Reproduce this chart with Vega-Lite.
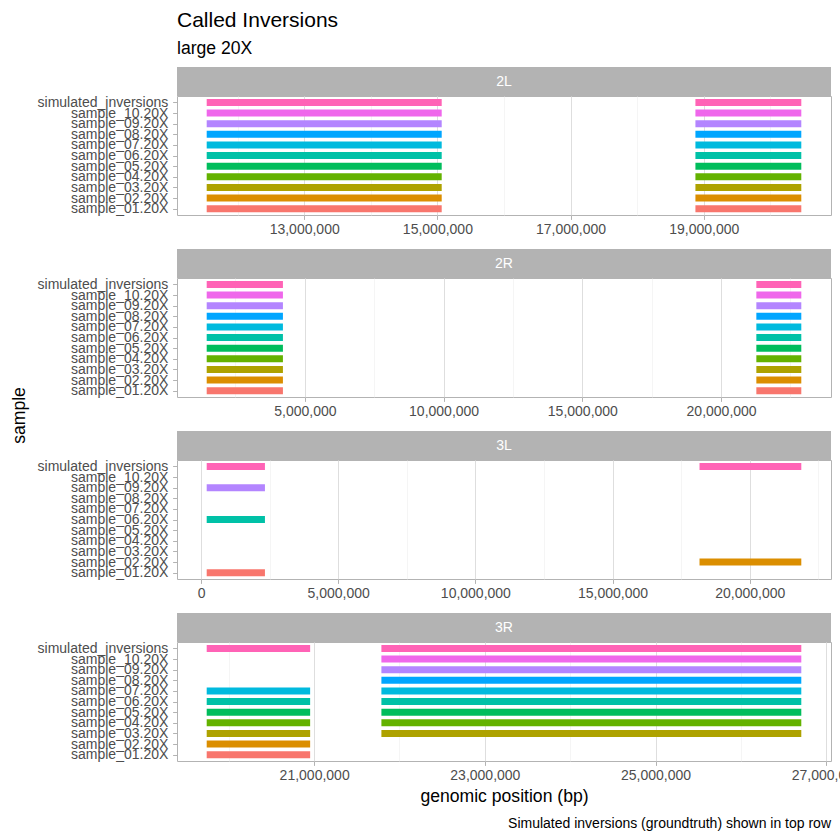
{
  "$schema": "https://vega.github.io/schema/vega-lite/v6.json",
  "padding": {"left": 9, "top": 10, "right": 5, "bottom": 5},
  "background": "white",
  "title": {"text": "Called Inversions", "subtitle": "large 20X", "anchor": "start", "frame": "group", "fontSize": 21, "subtitleFontSize": 17.6, "subtitlePadding": 9, "offset": 9},
  "datasets": {
    "inv": [
      {"chrom":"2L","sample":"simulated_inversions","start":11536000,"end":15065000},
      {"chrom":"2L","sample":"simulated_inversions","start":18875000,"end":20465000},
      {"chrom":"2L","sample":"sample_10.20X","start":11536000,"end":15065000},
      {"chrom":"2L","sample":"sample_10.20X","start":18875000,"end":20465000},
      {"chrom":"2L","sample":"sample_09.20X","start":11536000,"end":15065000},
      {"chrom":"2L","sample":"sample_09.20X","start":18875000,"end":20465000},
      {"chrom":"2L","sample":"sample_08.20X","start":11536000,"end":15065000},
      {"chrom":"2L","sample":"sample_08.20X","start":18875000,"end":20465000},
      {"chrom":"2L","sample":"sample_07.20X","start":11536000,"end":15065000},
      {"chrom":"2L","sample":"sample_07.20X","start":18875000,"end":20465000},
      {"chrom":"2L","sample":"sample_06.20X","start":11536000,"end":15065000},
      {"chrom":"2L","sample":"sample_06.20X","start":18875000,"end":20465000},
      {"chrom":"2L","sample":"sample_05.20X","start":11536000,"end":15065000},
      {"chrom":"2L","sample":"sample_05.20X","start":18875000,"end":20465000},
      {"chrom":"2L","sample":"sample_04.20X","start":11536000,"end":15065000},
      {"chrom":"2L","sample":"sample_04.20X","start":18875000,"end":20465000},
      {"chrom":"2L","sample":"sample_03.20X","start":11536000,"end":15065000},
      {"chrom":"2L","sample":"sample_03.20X","start":18875000,"end":20465000},
      {"chrom":"2L","sample":"sample_02.20X","start":11536000,"end":15065000},
      {"chrom":"2L","sample":"sample_02.20X","start":18875000,"end":20465000},
      {"chrom":"2L","sample":"sample_01.20X","start":11536000,"end":15065000},
      {"chrom":"2L","sample":"sample_01.20X","start":18875000,"end":20465000},
      {"chrom":"2R","sample":"simulated_inversions","start":1463000,"end":4210000},
      {"chrom":"2R","sample":"simulated_inversions","start":21270000,"end":22890000},
      {"chrom":"2R","sample":"sample_10.20X","start":1463000,"end":4210000},
      {"chrom":"2R","sample":"sample_10.20X","start":21270000,"end":22890000},
      {"chrom":"2R","sample":"sample_09.20X","start":1463000,"end":4210000},
      {"chrom":"2R","sample":"sample_09.20X","start":21270000,"end":22890000},
      {"chrom":"2R","sample":"sample_08.20X","start":1463000,"end":4210000},
      {"chrom":"2R","sample":"sample_08.20X","start":21270000,"end":22890000},
      {"chrom":"2R","sample":"sample_07.20X","start":1463000,"end":4210000},
      {"chrom":"2R","sample":"sample_07.20X","start":21270000,"end":22890000},
      {"chrom":"2R","sample":"sample_06.20X","start":1463000,"end":4210000},
      {"chrom":"2R","sample":"sample_06.20X","start":21270000,"end":22890000},
      {"chrom":"2R","sample":"sample_05.20X","start":1463000,"end":4210000},
      {"chrom":"2R","sample":"sample_05.20X","start":21270000,"end":22890000},
      {"chrom":"2R","sample":"sample_04.20X","start":1463000,"end":4210000},
      {"chrom":"2R","sample":"sample_04.20X","start":21270000,"end":22890000},
      {"chrom":"2R","sample":"sample_03.20X","start":1463000,"end":4210000},
      {"chrom":"2R","sample":"sample_03.20X","start":21270000,"end":22890000},
      {"chrom":"2R","sample":"sample_02.20X","start":1463000,"end":4210000},
      {"chrom":"2R","sample":"sample_02.20X","start":21270000,"end":22890000},
      {"chrom":"2R","sample":"sample_01.20X","start":1463000,"end":4210000},
      {"chrom":"2R","sample":"sample_01.20X","start":21270000,"end":22890000},
      {"chrom":"3L","sample":"simulated_inversions","start":207000,"end":2330000},
      {"chrom":"3L","sample":"simulated_inversions","start":18170000,"end":21880000},
      {"chrom":"3L","sample":"sample_09.20X","start":207000,"end":2330000},
      {"chrom":"3L","sample":"sample_06.20X","start":207000,"end":2330000},
      {"chrom":"3L","sample":"sample_02.20X","start":18170000,"end":21880000},
      {"chrom":"3L","sample":"sample_01.20X","start":207000,"end":2330000},
      {"chrom":"3R","sample":"simulated_inversions","start":19741000,"end":20953000},
      {"chrom":"3R","sample":"simulated_inversions","start":21788000,"end":26708000},
      {"chrom":"3R","sample":"sample_10.20X","start":21788000,"end":26708000},
      {"chrom":"3R","sample":"sample_09.20X","start":21788000,"end":26708000},
      {"chrom":"3R","sample":"sample_08.20X","start":21788000,"end":26708000},
      {"chrom":"3R","sample":"sample_07.20X","start":19741000,"end":20953000},
      {"chrom":"3R","sample":"sample_07.20X","start":21788000,"end":26708000},
      {"chrom":"3R","sample":"sample_06.20X","start":19741000,"end":20953000},
      {"chrom":"3R","sample":"sample_06.20X","start":21788000,"end":26708000},
      {"chrom":"3R","sample":"sample_05.20X","start":19741000,"end":20953000},
      {"chrom":"3R","sample":"sample_05.20X","start":21788000,"end":26708000},
      {"chrom":"3R","sample":"sample_04.20X","start":19741000,"end":20953000},
      {"chrom":"3R","sample":"sample_04.20X","start":21788000,"end":26708000},
      {"chrom":"3R","sample":"sample_03.20X","start":19741000,"end":20953000},
      {"chrom":"3R","sample":"sample_03.20X","start":21788000,"end":26708000},
      {"chrom":"3R","sample":"sample_02.20X","start":19741000,"end":20953000},
      {"chrom":"3R","sample":"sample_01.20X","start":19741000,"end":20953000}
    ]
  },
  "bounds": "flush",
  "spacing": 0,
  "vconcat": [
    {
      "data": {"values": [{"label": "2L"}]},
      "width": 654, "height": 29,
      "view": {"fill": "#B3B3B3", "stroke": null},
      "mark": {"type": "text", "color": "white", "fontSize": 14},
      "encoding": {"text": {"field": "label"}}
    },
    {
      "data": {"name": "inv"},
      "transform": [{"filter": "datum.chrom == '2L'"}],
      "width": 654, "height": 119,
      "mark": {"type": "rule", "strokeWidth": 7},
      "encoding": {
        "x": {"field": "start", "type": "quantitative", "scale": {"zero": false, "nice": false, "padding": 29.7},
          "axis": {"title": null, "format": ",d", "grid": true,
            "values": [12000000,13000000,14000000,15000000,16000000,17000000,18000000,19000000,20000000],
            "labelExpr": "datum.value % 2000000 == 1000000 ? datum.label : ''",
            "tickOpacity": {"condition": {"test": "datum.value % 2000000 == 1000000", "value": 1}, "value": 0},
            "gridColor": {"condition": {"test": "datum.value % 2000000 == 1000000", "value": "#DEDEDE"}, "value": "#EFEFEF"},
            "gridWidth": {"condition": {"test": "datum.value % 2000000 == 1000000", "value": 1}, "value": 0.6}}},
        "x2": {"field": "end"},
        "y": {"field": "sample", "type": "nominal",
          "scale": {"type": "point", "padding": 0.6, "domain": ["simulated_inversions","sample_10.20X","sample_09.20X","sample_08.20X","sample_07.20X","sample_06.20X","sample_05.20X","sample_04.20X","sample_03.20X","sample_02.20X","sample_01.20X"]},
          "axis": {"title": null}},
        "color": {"field": "sample", "type": "nominal", "legend": null,
          "scale": {"domain": ["sample_01.20X","sample_02.20X","sample_03.20X","sample_04.20X","sample_05.20X","sample_06.20X","sample_07.20X","sample_08.20X","sample_09.20X","sample_10.20X","simulated_inversions"],
            "range": ["#F8766D","#DB8E00","#AEA200","#64B200","#00BD5C","#00C1A7","#00BADE","#00A6FF","#B385FF","#EF67EB","#FF63B6"]}}
      }
    },
    {
      "data": {"values": [{"label": ""}]},
      "width": 654, "height": 33.6,
      "view": {"stroke": null},
      "mark": {"type": "text"},
      "encoding": {"text": {"field": "label"}}
    },
    {
      "data": {"values": [{"label": "2R"}]},
      "width": 654, "height": 29,
      "view": {"fill": "#B3B3B3", "stroke": null},
      "mark": {"type": "text", "color": "white", "fontSize": 14},
      "encoding": {"text": {"field": "label"}}
    },
    {
      "data": {"name": "inv"},
      "transform": [{"filter": "datum.chrom == '2R'"}],
      "width": 654, "height": 119,
      "mark": {"type": "rule", "strokeWidth": 7},
      "encoding": {
        "x": {"field": "start", "type": "quantitative", "scale": {"zero": false, "nice": false, "padding": 29.7},
          "axis": {"title": null, "format": ",d", "grid": true,
            "values": [2500000,5000000,7500000,10000000,12500000,15000000,17500000,20000000,22500000],
            "labelExpr": "datum.value % 5000000 == 0 ? datum.label : ''",
            "tickOpacity": {"condition": {"test": "datum.value % 5000000 == 0", "value": 1}, "value": 0},
            "gridColor": {"condition": {"test": "datum.value % 5000000 == 0", "value": "#DEDEDE"}, "value": "#EFEFEF"},
            "gridWidth": {"condition": {"test": "datum.value % 5000000 == 0", "value": 1}, "value": 0.6}}},
        "x2": {"field": "end"},
        "y": {"field": "sample", "type": "nominal",
          "scale": {"type": "point", "padding": 0.6, "domain": ["simulated_inversions","sample_10.20X","sample_09.20X","sample_08.20X","sample_07.20X","sample_06.20X","sample_05.20X","sample_04.20X","sample_03.20X","sample_02.20X","sample_01.20X"]},
          "axis": {"title": "sample", "titleX": -158, "titleY": 137, "titleAngle": 270, "titleAlign": "center", "titleBaseline": "middle"}},
        "color": {"field": "sample", "type": "nominal", "legend": null,
          "scale": {"domain": ["sample_01.20X","sample_02.20X","sample_03.20X","sample_04.20X","sample_05.20X","sample_06.20X","sample_07.20X","sample_08.20X","sample_09.20X","sample_10.20X","simulated_inversions"],
            "range": ["#F8766D","#DB8E00","#AEA200","#64B200","#00BD5C","#00C1A7","#00BADE","#00A6FF","#B385FF","#EF67EB","#FF63B6"]}}
      }
    },
    {
      "data": {"values": [{"label": ""}]},
      "width": 654, "height": 33.6,
      "view": {"stroke": null},
      "mark": {"type": "text"},
      "encoding": {"text": {"field": "label"}}
    },
    {
      "data": {"values": [{"label": "3L"}]},
      "width": 654, "height": 29,
      "view": {"fill": "#B3B3B3", "stroke": null},
      "mark": {"type": "text", "color": "white", "fontSize": 14},
      "encoding": {"text": {"field": "label"}}
    },
    {
      "data": {"name": "inv"},
      "transform": [{"filter": "datum.chrom == '3L'"}],
      "width": 654, "height": 119,
      "mark": {"type": "rule", "strokeWidth": 7},
      "encoding": {
        "x": {"field": "start", "type": "quantitative", "scale": {"zero": false, "nice": false, "padding": 29.7},
          "axis": {"title": null, "format": ",d", "grid": true,
            "values": [0,2500000,5000000,7500000,10000000,12500000,15000000,17500000,20000000,22500000],
            "labelExpr": "datum.value % 5000000 == 0 ? datum.label : ''",
            "tickOpacity": {"condition": {"test": "datum.value % 5000000 == 0", "value": 1}, "value": 0},
            "gridColor": {"condition": {"test": "datum.value % 5000000 == 0", "value": "#DEDEDE"}, "value": "#EFEFEF"},
            "gridWidth": {"condition": {"test": "datum.value % 5000000 == 0", "value": 1}, "value": 0.6}}},
        "x2": {"field": "end"},
        "y": {"field": "sample", "type": "nominal",
          "scale": {"type": "point", "padding": 0.6, "domain": ["simulated_inversions","sample_10.20X","sample_09.20X","sample_08.20X","sample_07.20X","sample_06.20X","sample_05.20X","sample_04.20X","sample_03.20X","sample_02.20X","sample_01.20X"]},
          "axis": {"title": null}},
        "color": {"field": "sample", "type": "nominal", "legend": null,
          "scale": {"domain": ["sample_01.20X","sample_02.20X","sample_03.20X","sample_04.20X","sample_05.20X","sample_06.20X","sample_07.20X","sample_08.20X","sample_09.20X","sample_10.20X","simulated_inversions"],
            "range": ["#F8766D","#DB8E00","#AEA200","#64B200","#00BD5C","#00C1A7","#00BADE","#00A6FF","#B385FF","#EF67EB","#FF63B6"]}}
      }
    },
    {
      "data": {"values": [{"label": ""}]},
      "width": 654, "height": 33.6,
      "view": {"stroke": null},
      "mark": {"type": "text"},
      "encoding": {"text": {"field": "label"}}
    },
    {
      "data": {"values": [{"label": "3R"}]},
      "width": 654, "height": 29,
      "view": {"fill": "#B3B3B3", "stroke": null},
      "mark": {"type": "text", "color": "white", "fontSize": 14},
      "encoding": {"text": {"field": "label"}}
    },
    {
      "data": {"name": "inv"},
      "transform": [{"filter": "datum.chrom == '3R'"}],
      "width": 654, "height": 119,
      "mark": {"type": "rule", "strokeWidth": 7},
      "encoding": {
        "x": {"field": "start", "type": "quantitative", "scale": {"zero": false, "nice": false, "padding": 29.7},
          "axis": {"title": "genomic position (bp)", "titlePadding": 5, "format": ",d", "grid": true,
            "values": [20000000,21000000,22000000,23000000,24000000,25000000,26000000,27000000],
            "labelExpr": "datum.value % 2000000 == 1000000 ? datum.label : ''",
            "tickOpacity": {"condition": {"test": "datum.value % 2000000 == 1000000", "value": 1}, "value": 0},
            "gridColor": {"condition": {"test": "datum.value % 2000000 == 1000000", "value": "#DEDEDE"}, "value": "#EFEFEF"},
            "gridWidth": {"condition": {"test": "datum.value % 2000000 == 1000000", "value": 1}, "value": 0.6}}},
        "x2": {"field": "end"},
        "y": {"field": "sample", "type": "nominal",
          "scale": {"type": "point", "padding": 0.6, "domain": ["simulated_inversions","sample_10.20X","sample_09.20X","sample_08.20X","sample_07.20X","sample_06.20X","sample_05.20X","sample_04.20X","sample_03.20X","sample_02.20X","sample_01.20X"]},
          "axis": {"title": null}},
        "color": {"field": "sample", "type": "nominal", "legend": null,
          "scale": {"domain": ["sample_01.20X","sample_02.20X","sample_03.20X","sample_04.20X","sample_05.20X","sample_06.20X","sample_07.20X","sample_08.20X","sample_09.20X","sample_10.20X","simulated_inversions"],
            "range": ["#F8766D","#DB8E00","#AEA200","#64B200","#00BD5C","#00C1A7","#00BADE","#00A6FF","#B385FF","#EF67EB","#FF63B6"]}}
      }
    },
    {
      "data": {"values": [{"caption": "Simulated inversions (groundtruth) shown in top row"}]},
      "width": 654, "height": 70,
      "view": {"stroke": null},
      "mark": {"type": "text", "fontSize": 14, "color": "#000000", "align": "right", "baseline": "bottom"},
      "encoding": {"text": {"field": "caption"}, "x": {"value": "width"}, "y": {"value": "height"}}
    }
  ],
  "config": {
    "font": "Liberation Sans",
    "view": {"stroke": "#B3B3B3", "strokeWidth": 1},
    "axis": {"labelFont": "Liberation Sans", "labelFontSize": 14, "labelColor": "#4D4D4D", "tickColor": "#B3B3B3", "tickSize": 4.4, "labelPadding": 3.5, "domain": false, "titleFont": "Liberation Sans", "titleFontSize": 17.6, "titleFontWeight": "normal", "titleColor": "#000000", "labelOverlap": false, "labelFlush": false, "labelBound": false},
    "axisY": {"grid": false, "labelLimit": 400, "labelPadding": 4.8},
    "title": {"font": "Liberation Sans", "fontWeight": "normal", "color": "#000000", "subtitleColor": "#000000", "subtitleFont": "Liberation Sans"}
  }
}
